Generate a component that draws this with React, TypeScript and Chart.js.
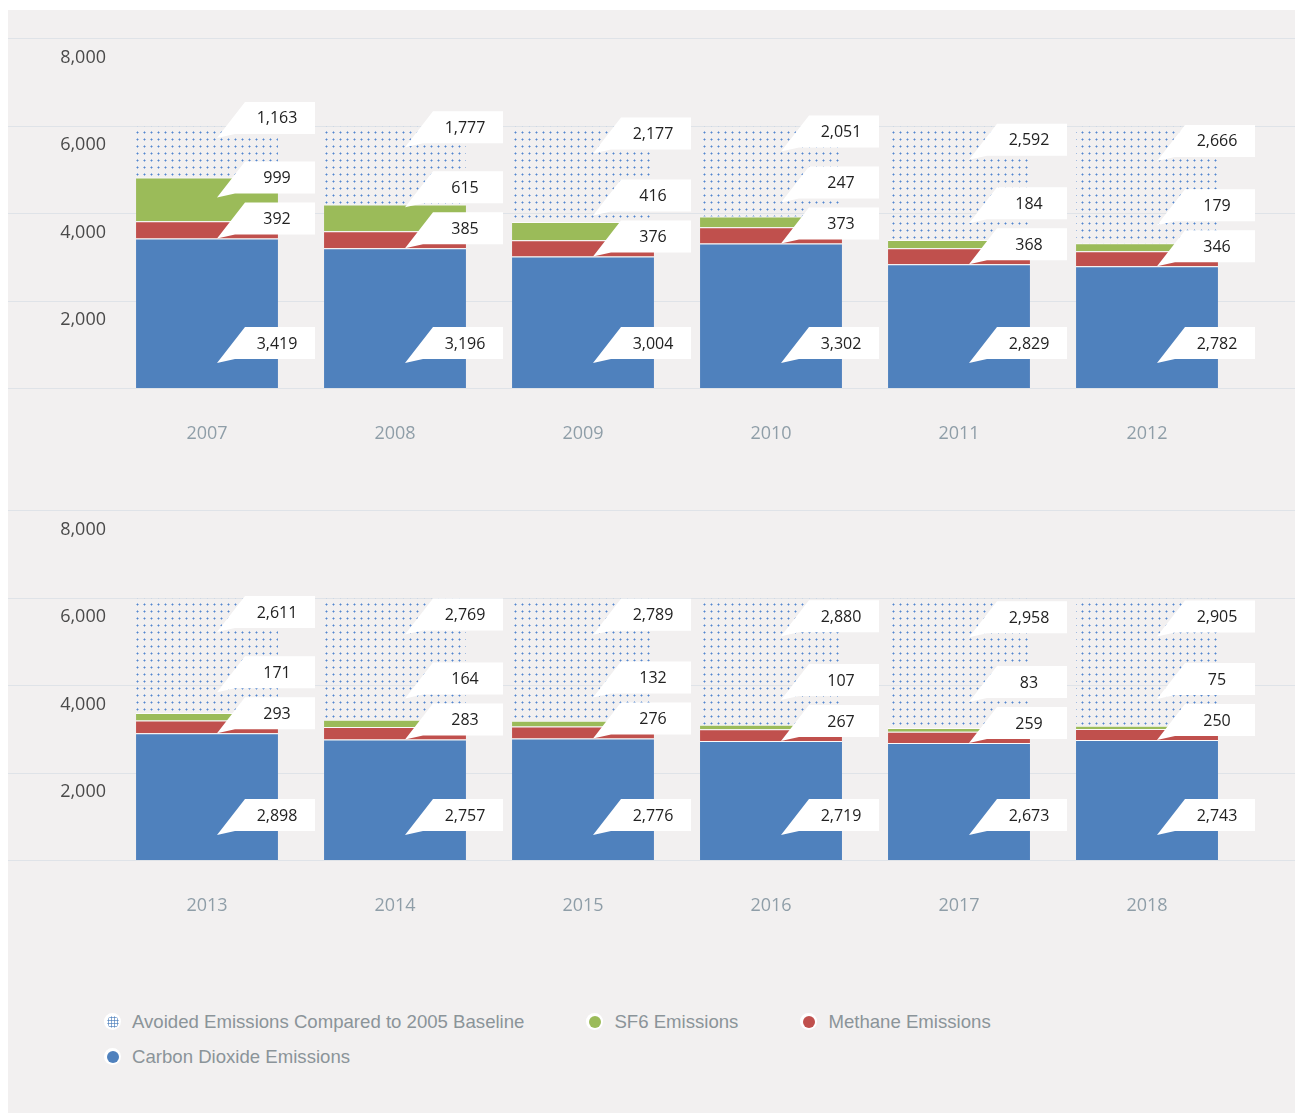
import React, { useEffect, useRef } from 'react';
import { Chart, registerables } from 'chart.js';

Chart.register(...registerables);
document.documentElement.style.overflow = 'hidden';

// ---------- data ----------
const years1 = ['2007', '2008', '2009', '2010', '2011', '2012'];
const years2 = ['2013', '2014', '2015', '2016', '2017', '2018'];

const co2Top = [3419, 3196, 3004, 3302, 2829, 2782];
const co2Bottom = [2898, 2757, 2776, 2719, 2673, 2743];

const methaneTop = [392, 385, 376, 373, 368, 346];
const methaneBottom = [293, 283, 276, 267, 259, 250];

const sf6Top = [999, 615, 416, 247, 184, 179];
const sf6Bottom = [171, 164, 132, 107, 83, 75];

const avoidedTop = [1163, 1777, 2177, 2051, 2592, 2666];
const avoidedBottom = [2611, 2769, 2789, 2880, 2958, 2905];

const yTickValues = [0, 2000, 4000, 6000, 8000];

const seriesNames = [
  'Carbon Dioxide Emissions',
  'Methane Emissions',
  'SF6 Emissions',
  'Avoided Emissions Compared to 2005 Baseline',
];
const seriesColors = ['#4f81bd', '#c0504d', '#9bbb59', '#4f81bd'];

const BG = '#f2f0f0';
const GRID = '#dfe3e8';

function fmt(v: number) {
  return Number(v).toLocaleString('en-US');
}

function makeDotPattern(ctx: CanvasRenderingContext2D) {
  const c = document.createElement('canvas');
  c.width = 7;
  c.height = 7;
  const g = c.getContext('2d')!;
  g.fillStyle = 'rgba(90,140,210,0.55)';
  g.fillRect(2, 3, 3, 1);
  g.fillRect(3, 2, 1, 3);
  g.fillStyle = 'rgba(80,130,205,0.9)';
  g.fillRect(3, 3, 1, 1);
  return ctx.createPattern(c, 'repeat')!;
}

const gridPlugin = {
  id: 'fullGrid',
  beforeDatasetsDraw(chart: any) {
    const { ctx, width } = chart;
    const y = chart.scales.y;
    ctx.save();
    ctx.strokeStyle = GRID;
    ctx.lineWidth = 1;
    y.ticks.forEach((t: any) => {
      const py = Math.round(y.getPixelForValue(t.value)) + 0.5;
      ctx.beginPath();
      ctx.moveTo(0, py);
      ctx.lineTo(width, py);
      ctx.stroke();
    });
    ctx.restore();
  },
};

function drawCallout(ctx: CanvasRenderingContext2D, cx: number, textY: number, text: string) {
  const top = textY - 17;
  const bottom = textY + 15;
  const tipY = textY + 19;
  const left = cx + 38;
  const right = cx + 108;
  ctx.beginPath();
  ctx.moveTo(left, top);
  ctx.lineTo(right, top);
  ctx.lineTo(right, bottom);
  ctx.lineTo(cx + 28, bottom);
  ctx.lineTo(cx + 10, tipY);
  ctx.closePath();
  ctx.fillStyle = '#ffffff';
  ctx.fill();
  ctx.fillStyle = '#222222';
  ctx.font = '16px "Open Sans"';
  ctx.textAlign = 'center';
  ctx.textBaseline = 'middle';
  ctx.fillText(text, cx + 70, textY);
}

const calloutPlugin = {
  id: 'callouts',
  afterDatasetsDraw(chart: any) {
    const ctx: CanvasRenderingContext2D = chart.ctx;
    const yScale = chart.scales.y;
    const metas = [0, 1, 2, 3].map((i) => chart.getDatasetMeta(i));
    const n = chart.data.labels.length;
    ctx.save();
    for (let i = 0; i < n; i++) {
      const cBar = metas[0].data[i];
      const sBar = metas[2].data[i];
      const aBar = metas[3].data[i];
      const cx = cBar.x;
      const base = yScale.getPixelForValue(0);
      const co2Text = base - 44;
      const methText = cBar.y - 19;
      const sCenter = (sBar.y + sBar.base) / 2;
      const sfText = Math.min(sCenter - 20, methText - 41);
      const aCenter = (aBar.y + aBar.base) / 2;
      const avText = Math.min(0.7 * aCenter + 9.4, sfText - 45);
      const ds = chart.data.datasets;
      drawCallout(ctx, cx, co2Text, fmt(ds[0].data[i]));
      drawCallout(ctx, cx, methText, fmt(ds[1].data[i]));
      drawCallout(ctx, cx, sfText, fmt(ds[2].data[i]));
      drawCallout(ctx, cx, avText, fmt(ds[3].data[i]));
    }
    ctx.restore();
  },
};

function Panel(props: { labels: string[]; co2: number[]; methane: number[]; sf6: number[]; avoided: number[] }) {
  const ref = useRef<HTMLCanvasElement>(null);
  useEffect(() => {
    const canvas = ref.current!;
    const ctx = canvas.getContext('2d')!;
    const pattern = makeDotPattern(ctx);
    const solid = (i: number, data: number[]) => ({
      label: seriesNames[i],
      data,
      backgroundColor: seriesColors[i],
      borderColor: 'rgba(255,255,255,0.75)',
      borderWidth: { top: 1, right: 0, bottom: 0, left: 0 },
      borderSkipped: false as any,
    });
    const chart = new Chart(canvas, {
      type: 'bar',
      data: {
        labels: props.labels,
        datasets: [
          solid(0, props.co2),
          solid(1, props.methane),
          solid(2, props.sf6),
          {
            label: seriesNames[3],
            data: props.avoided,
            backgroundColor: pattern as any,
            borderWidth: 0,
            borderColor: 'rgba(0,0,0,0)',
          },
        ],
      },
      options: {
        animation: false,
        responsive: false,
        events: [],
        layout: { padding: { top: 28, right: 59, left: 0, bottom: 0 } },
        datasets: { bar: { barPercentage: 0.755, categoryPercentage: 1 } },
        plugins: { legend: { display: false }, tooltip: { enabled: false } },
        scales: {
          x: {
            stacked: true,
            grid: { display: false, drawTicks: false, tickLength: 0 },
            border: { display: false },
            ticks: { color: '#8f9ea8', font: { family: 'Open Sans', size: 18 }, padding: 35 },
            afterFit(scale: any) {
              scale.height = 94;
            },
          },
          y: {
            stacked: true,
            min: 0,
            max: 8000,
            grid: { display: false, drawTicks: false, tickLength: 0 },
            border: { display: false },
            afterBuildTicks(scale: any) {
              scale.ticks = yTickValues.map((v) => ({ value: v }));
            },
            afterFit(scale: any) {
              scale.width = 105;
            },
            ticks: {
              color: '#4a4a4a',
              font: { family: 'Open Sans', size: 18 },
              padding: 7,
              labelOffset: 19.5,
              callback: (v: any) => (Number(v) === 0 ? '' : fmt(Number(v))),
            },
          },
        },
      },
      plugins: [gridPlugin, calloutPlugin],
    });
    return () => chart.destroy();
  }, []);
  return <canvas ref={ref} width={1292} height={472} style={{ display: 'block' }} />;
}

function Marker({ color, dotted }: { color: string; dotted?: boolean }) {
  return (
    <span
      style={{
        width: 17,
        height: 17,
        borderRadius: '50%',
        background: '#ffffff',
        display: 'inline-flex',
        alignItems: 'center',
        justifyContent: 'center',
        flex: '0 0 auto',
      }}
    >
      <span
        style={{
          width: 12,
          height: 12,
          borderRadius: '50%',
          display: 'block',
          background: dotted
            ? 'radial-gradient(circle, rgba(79,129,189,0.9) 0.9px, transparent 1.3px) 0 0 / 3px 3px'
            : color,
        }}
      />
    </span>
  );
}

const legendOrder = [3, 2, 1, 0];

export default function App() {
  return (
    <div style={{ paddingTop: 2 }}>
      <div style={{ position: 'relative', width: 1293, height: 1103, background: BG }}>
        <Panel labels={years1} co2={co2Top} methane={methaneTop} sf6={sf6Top} avoided={avoidedTop} />
        <Panel labels={years2} co2={co2Bottom} methane={methaneBottom} sf6={sf6Bottom} avoided={avoidedBottom} />
        <div
          style={{
            position: 'absolute',
            left: 96,
            top: 994,
            width: 1100,
            display: 'flex',
            flexWrap: 'wrap',
            columnGap: 62,
            fontFamily: '"Liberation Sans", Arial, sans-serif',
            fontSize: 18.6,
            color: '#8b9499',
          }}
        >
          {legendOrder.map((i) => (
            <div key={i} style={{ display: 'flex', alignItems: 'center', height: 35, gap: 11 }}>
              <Marker color={seriesColors[i]} dotted={i === 3} />
              <span style={{ whiteSpace: 'nowrap' }}>{seriesNames[i]}</span>
            </div>
          ))}
        </div>
      </div>
    </div>
  );
}
